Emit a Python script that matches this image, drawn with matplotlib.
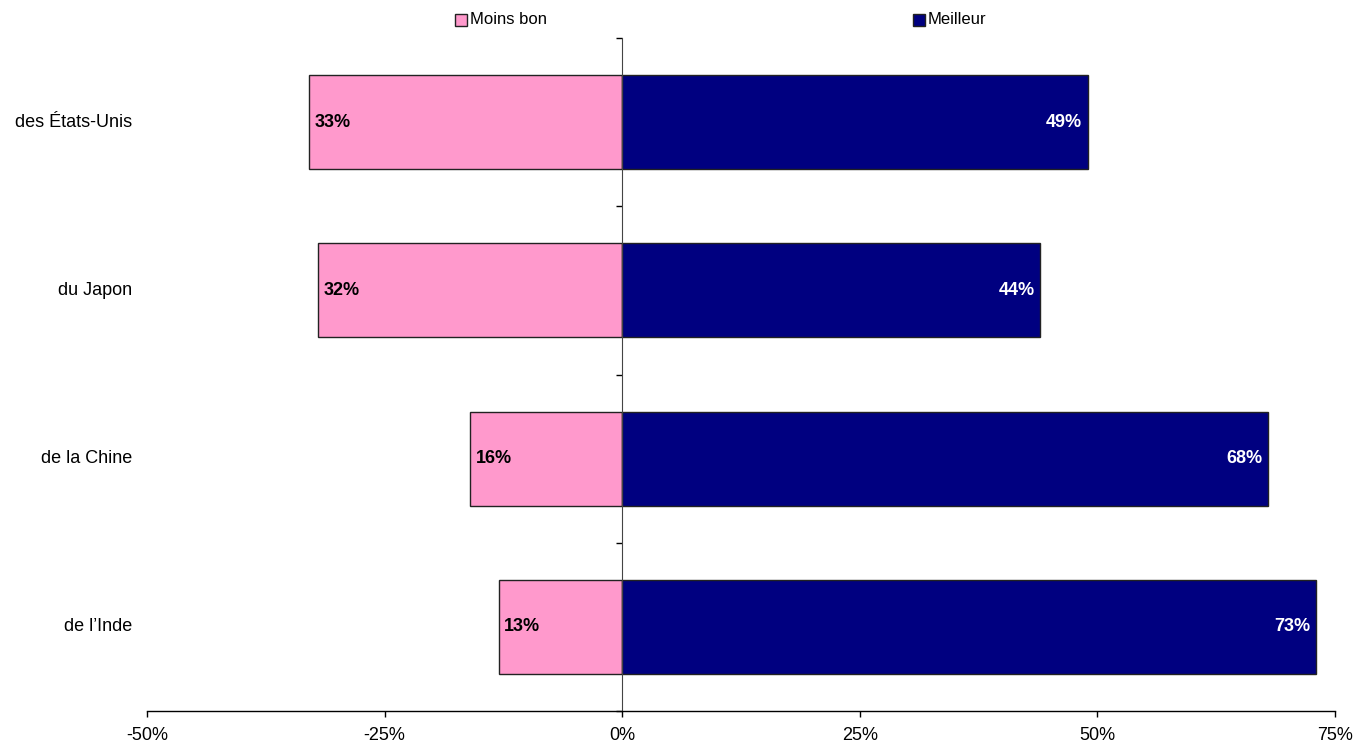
import matplotlib
matplotlib.use("Agg")
from matplotlib import pyplot as plt, patches
import matplotlib.transforms as mtransforms
from matplotlib.ticker import FixedLocator, FuncFormatter

plt.rcParams['font.family'] = ['Liberation Sans', 'DejaVu Sans']

categories = ["des États-Unis", "du Japon", "de la Chine", "de l’Inde"]
moins_bon = [33, 32, 16, 13]
meilleur = [49, 44, 68, 73]
x_ticks = [-50, -25, 0, 25, 50, 75]

PINK = "#FF99CC"
NAVY = "#000080"

W, H = 1356, 744
fig = plt.figure(figsize=(W / 100, H / 100), dpi=100)
ax = fig.add_axes([147 / W, 1 - 711 / H, (1335 - 147) / W, (711 - 38) / H])

y = list(range(len(categories)))
ax.barh(y, [-v for v in moins_bon], height=0.56, color=PINK, edgecolor="#222222", linewidth=1)
ax.barh(y, meilleur, height=0.56, color=NAVY, edgecolor="#222222", linewidth=1)

for i, (a, b) in enumerate(zip(moins_bon, meilleur)):
    ax.text(-a + 0.6, i, f"{a}%", ha="left", va="center", fontsize=13,
            fontweight="bold", color="black")
    ax.text(b - 0.6, i, f"{b}%", ha="right", va="center", fontsize=13,
            fontweight="bold", color="white")

ax.set_xlim(-50, 75)
ax.set_ylim(len(categories) - 0.5, -0.5)
ax.set_xticks(x_ticks)
ax.xaxis.set_major_formatter(FuncFormatter(lambda v, p: f"{v:.0f}%"))
ax.tick_params(axis="x", length=4.5, width=1, pad=7, labelsize=13, direction="out")

# vertical axis crosses at 0, category labels stay on the left
for s in ["top", "right"]:
    ax.spines[s].set_visible(False)
ax.spines["left"].set_position(("data", 0))
ax.spines["left"].set_color("#444444")
ax.spines["bottom"].set_linewidth(1)
ax.set_yticks([])
ax.yaxis.set_minor_locator(FixedLocator([i - 0.5 for i in range(len(categories) + 1)]))
ax.tick_params(axis="y", which="minor", length=4.5, width=1, direction="out", labelleft=False)

trans = mtransforms.blended_transform_factory(ax.transAxes, ax.transData)
for i, c in enumerate(categories):
    ax.text(-15 / (1335 - 147), i, c, transform=trans, ha="right", va="center", fontsize=13)

# legend drawn along the top
for x0, col, lab in [(455, PINK, "Moins bon"), (913, NAVY, "Meilleur")]:
    fig.add_artist(patches.Rectangle((x0 / W, 1 - 26 / H), 12 / W, 12 / H,
                                     transform=fig.transFigure, facecolor=col,
                                     edgecolor="#222222", linewidth=1))
    fig.text((x0 + 15) / W, 1 - 20 / H, lab, ha="left", va="center", fontsize=12)

fig.savefig("out.png", dpi=100)
